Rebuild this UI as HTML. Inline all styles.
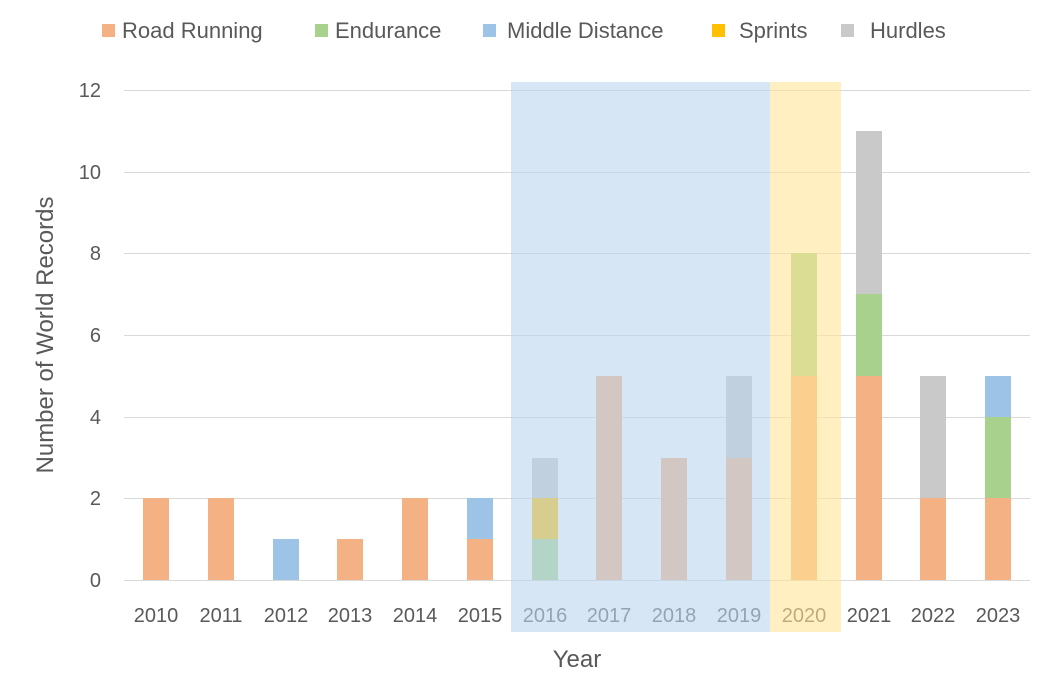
<!DOCTYPE html>
<html><head><meta charset="utf-8"><style>
body{margin:0;background:#fff;}
svg text{font-family:"Liberation Sans",sans-serif;fill:#595959;}
</style></head><body>
<svg width="1053" height="678" xmlns="http://www.w3.org/2000/svg">
<g stroke="#d9d9d9" stroke-width="1">
<line x1="124" x2="1030" y1="90.5" y2="90.5"/>
<line x1="124" x2="1030" y1="172.5" y2="172.5"/>
<line x1="124" x2="1030" y1="253.5" y2="253.5"/>
<line x1="124" x2="1030" y1="335.5" y2="335.5"/>
<line x1="124" x2="1030" y1="417.5" y2="417.5"/>
<line x1="124" x2="1030" y1="498.5" y2="498.5"/>
<line x1="124" x2="1030" y1="580.5" y2="580.5"/>
</g>
<g font-size="20" text-anchor="end">
<text x="101" y="97">12</text><text x="101" y="179">10</text><text x="101" y="260">8</text>
<text x="101" y="342">6</text><text x="101" y="424">4</text><text x="101" y="505">2</text><text x="101" y="587">0</text>
</g>
<g>
<rect x="143" y="498" width="26" height="82" fill="#F4B183"/>
<rect x="208" y="498" width="26" height="82" fill="#F4B183"/>
<rect x="273" y="539" width="26" height="41" fill="#9DC3E6"/>
<rect x="337" y="539" width="26" height="41" fill="#F4B183"/>
<rect x="402" y="498" width="26" height="82" fill="#F4B183"/>
<rect x="467" y="539" width="26" height="41" fill="#F4B183"/>
<rect x="467" y="498" width="26" height="41" fill="#9DC3E6"/>
<rect x="532" y="539" width="26" height="41" fill="#A9D18E"/>
<rect x="532" y="498" width="26" height="41" fill="#FFC000"/>
<rect x="532" y="458" width="26" height="40" fill="#C9C9C9"/>
<rect x="596" y="376" width="26" height="204" fill="#F4B183"/>
<rect x="661" y="458" width="26" height="122" fill="#F4B183"/>
<rect x="726" y="458" width="26" height="122" fill="#F4B183"/>
<rect x="726" y="376" width="26" height="82" fill="#C9C9C9"/>
<rect x="791" y="376" width="26" height="204" fill="#F4B183"/>
<rect x="791" y="253" width="26" height="123" fill="#A9D18E"/>
<rect x="856" y="376" width="26" height="204" fill="#F4B183"/>
<rect x="856" y="294" width="26" height="82" fill="#A9D18E"/>
<rect x="856" y="131" width="26" height="163" fill="#C9C9C9"/>
<rect x="920" y="498" width="26" height="82" fill="#F4B183"/>
<rect x="920" y="376" width="26" height="122" fill="#C9C9C9"/>
<rect x="985" y="498" width="26" height="82" fill="#F4B183"/>
<rect x="985" y="417" width="26" height="81" fill="#A9D18E"/>
<rect x="985" y="376" width="26" height="41" fill="#9DC3E6"/>
</g>
<g font-size="20" text-anchor="middle">
<text x="156" y="622">2010</text><text x="221" y="622">2011</text><text x="286" y="622">2012</text>
<text x="350" y="622">2013</text><text x="415" y="622">2014</text><text x="480" y="622">2015</text>
<text x="545" y="622">2016</text><text x="609" y="622">2017</text><text x="674" y="622">2018</text>
<text x="739" y="622">2019</text><text x="804" y="622">2020</text><text x="869" y="622">2021</text>
<text x="933" y="622">2022</text><text x="998" y="622">2023</text>
</g>
<rect x="511" y="82" width="259" height="550" fill="rgb(187,213,237)" fill-opacity="0.6"/>
<rect x="770" y="82" width="71" height="550" fill="rgb(255,228,152)" fill-opacity="0.6"/>
<text x="577" y="667" font-size="24" text-anchor="middle">Year</text>
<text transform="translate(53,335) rotate(-90)" font-size="24" text-anchor="middle">Number of World Records</text>
<g font-size="22">
<rect x="102" y="24" width="13" height="13" fill="#F4B183"/><text x="122" y="38">Road Running</text>
<rect x="315" y="24" width="13" height="13" fill="#A9D18E"/><text x="335" y="38">Endurance</text>
<rect x="483" y="24" width="13" height="13" fill="#9DC3E6"/><text x="507" y="38">Middle Distance</text>
<rect x="712" y="24" width="13" height="13" fill="#FFC000"/><text x="739" y="38">Sprints</text>
<rect x="841" y="24" width="13" height="13" fill="#C9C9C9"/><text x="870" y="38">Hurdles</text>
</g>
</svg>
</body></html>
